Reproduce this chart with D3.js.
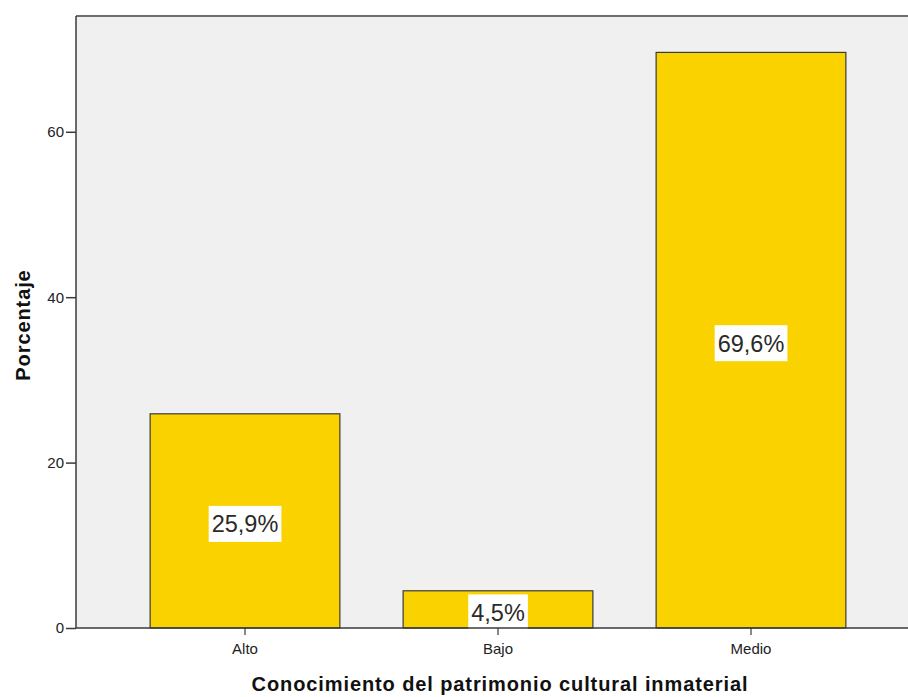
<!DOCTYPE html>
<html>
<head>
<meta charset="utf-8">
<script src="https://cdn.jsdelivr.net/npm/d3@7"></script>
<style>
  html, body { margin: 0; padding: 0; background: #fff; }
  svg { display: block; font-family: "Liberation Sans", Arial, sans-serif; }
</style>
</head>
<body>
<svg id="chart" width="908" height="697"></svg>
<script>
// Categories and percentages
const categories = ["Alto", "Bajo", "Medio"];
const percentages = [25.9, 4.5, 69.6];
const valueLabels = ["25,9%", "4,5%", "69,6%"];
const yTicks = [0, 20, 40, 60];
const xTitle = "Conocimiento del patrimonio cultural inmaterial";
const yTitle = "Porcentaje";

const W = 908, H = 697;
const plot = { left: 76, top: 16, right: 920, bottom: 628 };

const svg = d3.select("#chart");

const x = d3.scaleBand()
  .domain(categories)
  .range([plot.left, plot.right])
  .paddingInner(0.25)
  .paddingOuter(0.293);

const y = d3.scaleLinear()
  .domain([0, 74])
  .range([plot.bottom, plot.top]);

// Plot background
svg.append("rect")
  .attr("x", plot.left).attr("y", plot.top)
  .attr("width", W - plot.left).attr("height", plot.bottom - plot.top)
  .attr("fill", "#f0f0f0");

// Top border
svg.append("line")
  .attr("x1", plot.left).attr("x2", W)
  .attr("y1", plot.top).attr("y2", plot.top)
  .attr("stroke", "#6e6e6e").attr("stroke-width", 2);

// Bars
const data = categories.map((c, i) => ({ c, v: percentages[i], label: valueLabels[i] }));

svg.append("g").selectAll("rect")
  .data(data)
  .join("rect")
  .attr("x", d => x(d.c))
  .attr("y", d => y(d.v))
  .attr("width", x.bandwidth())
  .attr("height", d => y(0) - y(d.v))
  .attr("fill", "#fad200")
  .attr("stroke", "#3a3a3a")
  .attr("stroke-width", 1.2);

// Value labels with white boxes, centred on each bar
const lab = svg.append("g").selectAll("g")
  .data(data)
  .join("g")
  .attr("transform", d => `translate(${x(d.c) + x.bandwidth() / 2},${(y(d.v) + y(0)) / 2 + 3})`);

lab.append("text")
  .attr("text-anchor", "middle")
  .attr("dy", "0.36em")
  .attr("font-size", 23.5)
  .attr("fill", "#2a2a2a")
  .text(d => d.label)
  .each(function () {
    const bb = this.getBBox();
    d3.select(this.parentNode).insert("rect", "text")
      .attr("x", bb.x - 3).attr("y", -18)
      .attr("width", bb.width + 6).attr("height", 36)
      .attr("fill", "#ffffff");
  });

// Y axis
const yAxis = svg.append("g")
  .attr("transform", `translate(${plot.left},0)`)
  .call(d3.axisLeft(y).tickValues(yTicks).tickSize(10).tickPadding(2).tickFormat(d3.format("d")));
yAxis.select(".domain").attr("stroke", "#3a3a3a").attr("stroke-width", 1.5)
  .attr("d", `M0,${plot.top}V${plot.bottom}`);
yAxis.selectAll(".tick line").attr("stroke", "#3a3a3a").attr("stroke-width", 1.5);
yAxis.selectAll(".tick text").attr("font-size", 15).attr("fill", "#222")
  .attr("font-family", "Liberation Sans, Arial, sans-serif");

// X axis
const xAxis = svg.append("g")
  .attr("transform", `translate(0,${plot.bottom})`)
  .call(d3.axisBottom(x).tickSize(7).tickPadding(8));
xAxis.select(".domain").attr("stroke", "#3a3a3a").attr("stroke-width", 1.5)
  .attr("d", `M${plot.left},0H${W}`);
xAxis.selectAll(".tick line").attr("stroke", "#3a3a3a").attr("stroke-width", 1.2);
xAxis.selectAll(".tick text").attr("font-size", 15).attr("fill", "#222")
  .attr("font-family", "Liberation Sans, Arial, sans-serif");

// Axis titles
svg.append("text")
  .attr("x", (plot.left + W) / 2 + 8)
  .attr("y", 691)
  .attr("text-anchor", "middle")
  .attr("font-size", 20)
  .attr("font-weight", "bold")
  .attr("letter-spacing", 0.9)
  .attr("fill", "#111")
  .text(xTitle);

svg.append("text")
  .attr("transform", `translate(30,${325}) rotate(-90)`)
  .attr("text-anchor", "middle")
  .attr("font-size", 20)
  .attr("font-weight", "bold")
  .attr("letter-spacing", 0.9)
  .attr("fill", "#111")
  .text(yTitle);
</script>
</body>
</html>
